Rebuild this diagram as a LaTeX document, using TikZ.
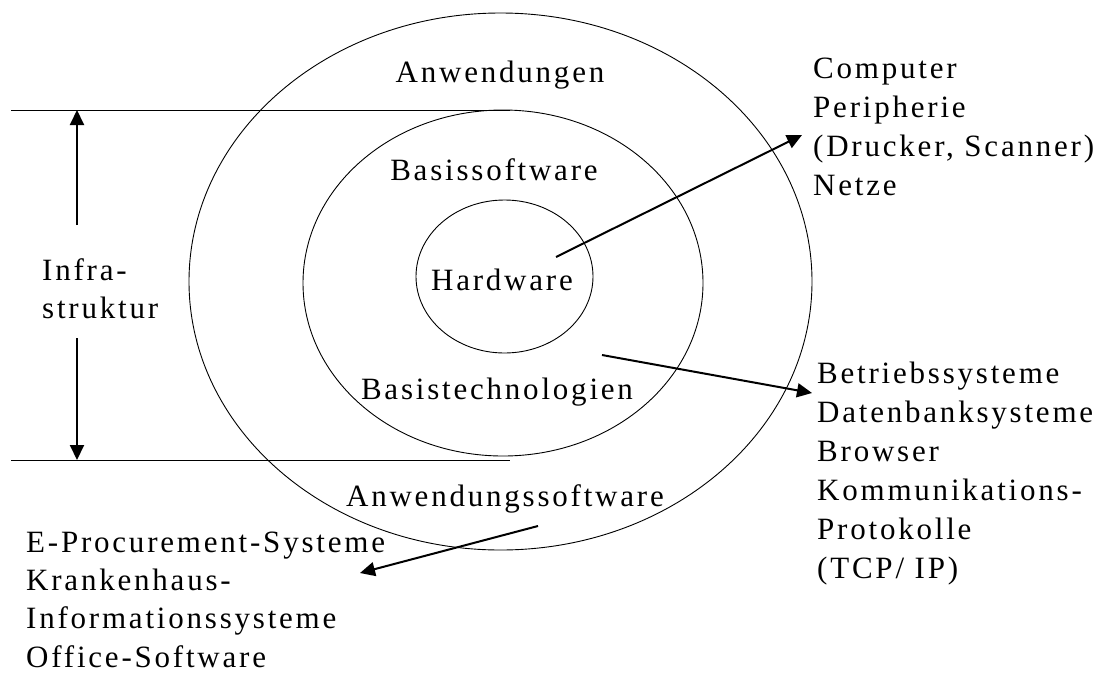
\documentclass[tikz,border=0pt]{standalone}
\usepackage{fontspec}
\setmainfont{Liberation Serif}[LetterSpace=9]
\usetikzlibrary{arrows.meta}
\begin{document}
\begin{tikzpicture}[x=1pt,y=-1pt,
  ring/.style={draw, line width=0.9pt},
  rule/.style={draw, line width=0.9pt},
  pointer/.style={line width=2pt, -{Triangle[length=15pt,width=14pt]}},
  txt/.style={font=\fontsize{31}{39}\selectfont, inner sep=0pt},
  txtl/.style={txt, anchor=base west},
  txtc/.style={txt, anchor=base}]
\useasboundingbox (0,0) rectangle (1106,673);

% concentric layers
\draw[ring] (500.5,281.5) ellipse [x radius=311.5pt, y radius=268.5pt];
\draw[ring] (503,283) ellipse [x radius=200pt, y radius=173pt];
\draw[ring] (504.5,276.5) ellipse [x radius=88.5pt, y radius=76.5pt];

% layer names
\node[txtc] (anw)  at (500,82)  {Anwendungen};
\node[txtc] (bsw)  at (494,180) {Basissoftware};
\node[txtc] (hw)   at (502,290) {Hardware};
\node[txtc] (btec) at (497,399) {Basistechnologien};
\node[txtc] (asw)  at (505,506) {Anwendungssoftware};

% infrastructure band
\coordinate (topL) at (11,110);
\coordinate (topR) at (510,110);
\coordinate (botL) at (11,460);
\coordinate (botR) at (510,460);
\draw[rule] (topL) -- (topR);
\draw[rule] (botL) -- (botR);
\coordinate (upFrom) at (77,225);
\coordinate (upTo) at (77,110);
\coordinate (dnFrom) at (77,338);
\coordinate (dnTo) at (77,460);
\draw[pointer] (upFrom) -- (upTo);
\draw[pointer] (dnFrom) -- (dnTo);
\node[txtl] (inf1) at (42,280) {Infra-};
\node[txtl] (inf2) at (42,318) {struktur};

% hardware examples
\node[txtl] (h1) at (813,78)  {Computer};
\node[txtl] (h2) at (813,117) {Peripherie};
\node[txtl] (h3) at (813,156) {(Drucker, Scanner)};
\node[txtl] (h4) at (813,195) {Netze};

% basic technology examples
\node[txtl] (t1) at (817,383) {Betriebssysteme};
\node[txtl] (t2) at (817,422) {Datenbanksysteme};
\node[txtl] (t3) at (817,461) {Browser};
\node[txtl] (t4) at (817,500) {Kommunikations-};
\node[txtl] (t5) at (817,539) {Protokolle};
\node[txtl] (t6) at (817,578) {(TCP/ IP)};

% application software examples
\node[txtl] (a1) at (26,552) {E-Procurement-Systeme};
\node[txtl] (a2) at (26,590) {Krankenhaus-};
\node[txtl] (a3) at (26,628) {Informationssysteme};
\node[txtl] (a4) at (26,667) {Office-Software};

% pointers from the layers to their examples
\coordinate (hwFrom) at (556,257);
\coordinate (hwTo) at (802,135);
\coordinate (btFrom) at (602,355);
\coordinate (btTo) at (812,393);
\coordinate (asFrom) at (538,526);
\coordinate (asTo) at (360,573);
\draw[pointer] (hwFrom) -- (hwTo);
\draw[pointer] (btFrom) -- (btTo);
\draw[pointer] (asFrom) -- (asTo);
\end{tikzpicture}
\end{document}
